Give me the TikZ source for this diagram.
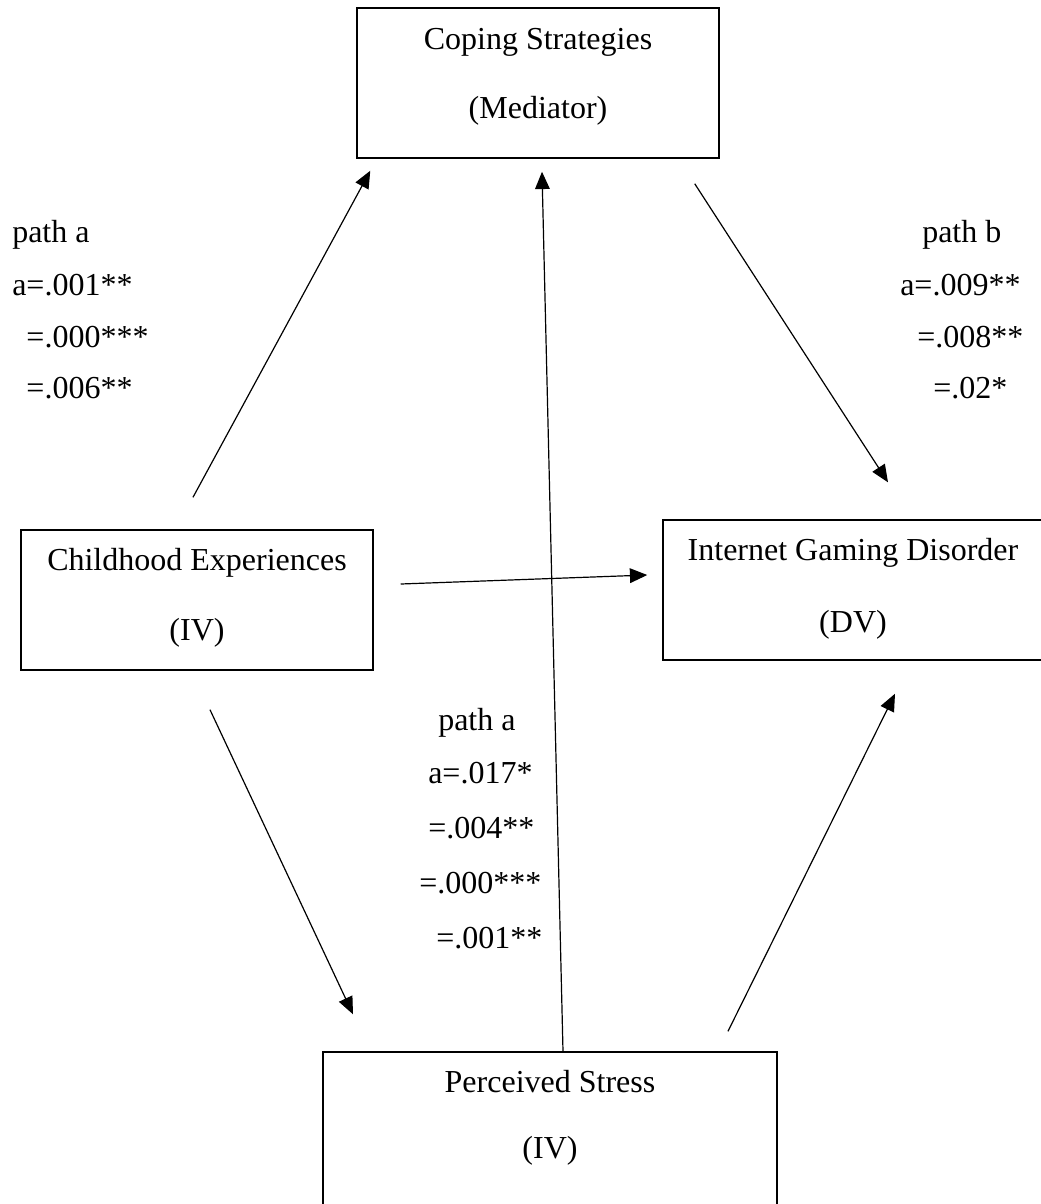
\documentclass[tikz,border=0pt]{standalone}
\usepackage{fontspec}
\setmainfont{Liberation Serif}
\usetikzlibrary{arrows.meta,calc}
\begin{document}
\begin{tikzpicture}[x=0.75pt,y=-0.75pt,
  boxnode/.style={draw=black,line width=1.1pt,rectangle,inner sep=0pt},
  txt/.style={inner sep=0pt,font=\fontsize{24}{28}\selectfont},
  arr/.style={draw=black,line width=0.9pt,-{Triangle[length=13pt,width=11pt]}}]
\useasboundingbox (0,0) rectangle (1041,1204);
\fill[white] (0,0) rectangle (1041,1204);
% boxes
\node[boxnode,minimum width=271.5pt,minimum height=112.5pt] (cope) at (538,83) {};
\node[boxnode,minimum width=264pt,minimum height=105pt] (child) at (197,600) {};
\node[boxnode,minimum width=285pt,minimum height=105pt] (igd) at (853,590) {};
\node[boxnode,minimum width=340.5pt,minimum height=126pt] (stress) at (550,1136) {};
% box texts
\node[txt,anchor=base] (copet1) at (538,49) {Coping Strategies};
\node[txt,anchor=base] (copet2) at (538,118) {(Mediator)};
\node[txt,anchor=base] (childt1) at (197,570) {Childhood Experiences};
\node[txt,anchor=base] (childt2) at (197,640) {(IV)};
\node[txt,anchor=base] (igdt1) at (853,560) {Internet Gaming Disorder};
\node[txt,anchor=base] (igdt2) at (853,632) {(DV)};
\node[txt,anchor=base] (stresst1) at (550,1092) {Perceived Stress};
\node[txt,anchor=base] (stresst2) at (550,1158) {(IV)};
% left labels
\node[txt,anchor=base west] (la1) at (12,242) {path a};
\node[txt,anchor=base west] (la2) at (12,295) {a=.001**};
\node[txt,anchor=base west] (la3) at (12,347) {\phantom{a}=.000***};
\node[txt,anchor=base west] (la4) at (12,398) {\phantom{a}=.006**};
% right labels
\node[txt,anchor=base west] (lb1) at (922,242) {path b};
\node[txt,anchor=base west] (lb2) at (900,295) {a=.009**};
\node[txt,anchor=base west] (lb3) at (917,347) {=.008**};
\node[txt,anchor=base west] (lb4) at (933,398) {=.02*};
% middle labels
\node[txt,anchor=base west] (lm1) at (438,730) {path a};
\node[txt,anchor=base west] (lm2) at (428,783) {a=.017*};
\node[txt,anchor=base west] (lm3) at (428,838) {=.004**};
\node[txt,anchor=base west] (lm4) at (419,893) {=.000***};
\node[txt,anchor=base west] (lm5) at (436,948) {=.001**};
% connector end points
\coordinate (a1s) at ([shift={(-4,-32)}]child.north);
\coordinate (a1e) at ([shift={(14,12)}]cope.south west);
\coordinate (a2s) at ([shift={(-25,25)}]cope.south east);
\coordinate (a2e) at ([shift={(35,-37)}]igd.north);
\coordinate (a3s) at ([shift={(27,-16)}]child.east);
\coordinate (a3e) at ([shift={(-15,-15)}]igd.west);
\coordinate (a4s) at ([shift={(13,39)}]child.south);
\coordinate (a4e) at ([shift={(-197,-37)}]stress.north);
\coordinate (a5s) at ([shift={(13,0)}]stress.north);
\coordinate (a5e) at ([shift={(4,13)}]cope.south);
\coordinate (a6s) at ([shift={(178,-20)}]stress.north);
\coordinate (a6e) at ([shift={(42,33)}]igd.south);
% connectors
\draw[arr] (a1s) -- (a1e);
\draw[arr] (a2s) -- (a2e);
\draw[arr] (a3s) -- (a3e);
\draw[arr] (a4s) -- (a4e);
\draw[arr] (a5s) -- (a5e);
\draw[arr] (a6s) -- (a6e);
\end{tikzpicture}
\end{document}
